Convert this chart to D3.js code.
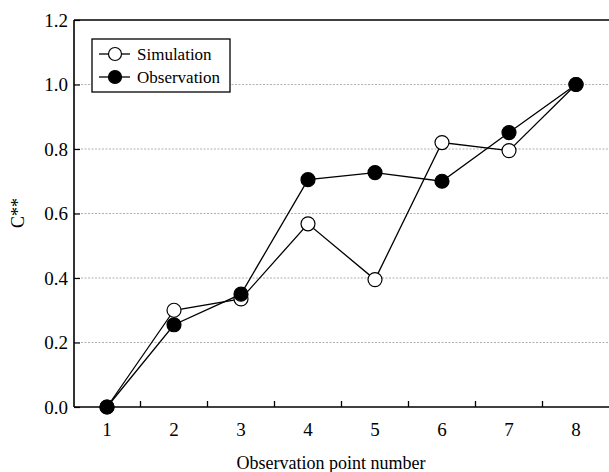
<!DOCTYPE html>
<html>
<head>
<meta charset="utf-8">
<script src="https://cdn.jsdelivr.net/npm/d3@7"></script>
<style>
	body { margin: 0; background: #fff; }
	svg { display: block; font-family: 'Liberation Serif', 'DejaVu Serif', serif; }
</style>
</head>
<body>
<div id="chart"></div>
<script>
const POINTS = [1, 2, 3, 4, 5, 6, 7, 8];
const SIMULATION = [0.0, 0.30, 0.335, 0.568, 0.395, 0.82, 0.795, 1.0];
const OBSERVATION = [0.0, 0.255, 0.35, 0.705, 0.727, 0.70, 0.851, 1.0];
const Y_TICKS = [0.0, 0.2, 0.4, 0.6, 0.8, 1.0, 1.2];
const X_DIVIDERS = [1.5, 2.5, 3.5, 4.5, 5.5, 6.5, 7.5];

const width = 609;
const height = 472;

const frame = {left: 74, right: 609, top: 20, bottom: 407};

const svg = d3
	.select('#chart')
	.append('svg')
	.attr('width', width)
	.attr('height', height);

const x = d3.scaleLinear().domain([1, 8]).range([107, 576]);
const y = d3.scaleLinear().domain([0, 1.2]).range([frame.bottom, frame.top]);

// Dotted gridlines
svg
	.append('g')
	.selectAll('line')
	.data(Y_TICKS.filter(v => v > 0 && v < 1.2))
	.enter()
	.append('line')
	.attr('x1', frame.left)
	.attr('x2', frame.right)
	.attr('y1', d => y(d))
	.attr('y2', d => y(d))
	.attr('stroke', '#a8a8a8')
	.attr('stroke-width', 0.9)
	.attr('stroke-dasharray', '2,1.5');

// Y axis, ticks point into the plot
const yAxis = svg
	.append('g')
	.attr('transform', `translate(${frame.left},0)`)
	.call(
		d3
			.axisLeft(y)
			.tickValues(Y_TICKS)
			.tickSize(-6)
			.tickPadding(6)
			.tickFormat(d3.format('.1f'))
	);
yAxis.select('.domain').remove();
yAxis.selectAll('line').attr('stroke', '#000').attr('stroke-width', 1.2);
yAxis
	.selectAll('text')
	.attr('font-size', 19)
	.attr('font-family', "'Liberation Serif', serif")
	.attr('fill', '#000');

svg
	.append('line')
	.attr('x1', frame.left)
	.attr('x2', frame.left)
	.attr('y1', frame.top)
	.attr('y2', frame.bottom)
	.attr('stroke', '#000')
	.attr('stroke-width', 1.6);

// Top line
svg
	.append('line')
	.attr('x1', frame.left)
	.attr('x2', frame.right)
	.attr('y1', frame.top)
	.attr('y2', frame.top)
	.attr('stroke', '#000')
	.attr('stroke-width', 1.4);

// X axis line and inward ticks between points
svg
	.append('line')
	.attr('x1', frame.left)
	.attr('x2', frame.right)
	.attr('y1', frame.bottom)
	.attr('y2', frame.bottom)
	.attr('stroke', '#000')
	.attr('stroke-width', 1.6);

svg
	.append('g')
	.selectAll('line')
	.data(X_DIVIDERS)
	.enter()
	.append('line')
	.attr('x1', d => x(d))
	.attr('x2', d => x(d))
	.attr('y1', frame.bottom)
	.attr('y2', frame.bottom - 6)
	.attr('stroke', '#000')
	.attr('stroke-width', 1.3);

svg
	.append('g')
	.selectAll('text')
	.data(POINTS)
	.enter()
	.append('text')
	.attr('x', d => x(d))
	.attr('y', frame.bottom + 29)
	.attr('text-anchor', 'middle')
	.attr('font-size', 19)
	.text(d => d);

// Axis titles
svg
	.append('text')
	.attr('x', 331)
	.attr('y', 469)
	.attr('text-anchor', 'middle')
	.attr('font-size', 18)
	.text('Observation point number');

svg
	.append('text')
	.attr('transform', 'translate(24,213) rotate(-90)')
	.attr('text-anchor', 'middle')
	.attr('font-size', 18)
	.text('C**');

// Series
const line = d3
	.line()
	.x((d, i) => x(POINTS[i]))
	.y(d => y(d));

const series = [
	{values: SIMULATION, fill: '#fff'},
	{values: OBSERVATION, fill: '#000'},
];

series.forEach(s => {
	svg
		.append('path')
		.datum(s.values)
		.attr('d', line)
		.attr('fill', 'none')
		.attr('stroke', '#000')
		.attr('stroke-width', 1.3);
});

series.forEach(s => {
	svg
		.append('g')
		.selectAll('circle')
		.data(s.values)
		.enter()
		.append('circle')
		.attr('cx', (d, i) => x(POINTS[i]))
		.attr('cy', d => y(d))
		.attr('r', 7)
		.attr('fill', s.fill)
		.attr('stroke', '#000')
		.attr('stroke-width', 1.2);
});

// Legend
const legend = svg.append('g').attr('transform', 'translate(92,39)');
legend
	.append('rect')
	.attr('width', 138)
	.attr('height', 53)
	.attr('fill', '#fff')
	.attr('stroke', '#000')
	.attr('stroke-width', 1.3);

const legendItems = [
	{label: 'Simulation', fill: '#fff'},
	{label: 'Observation', fill: '#000'},
];

legendItems.forEach((item, i) => {
	const row = legend.append('g').attr('transform', `translate(0,${15 + i * 23})`);
	row
		.append('line')
		.attr('x1', 7)
		.attr('x2', 38)
		.attr('stroke', '#000')
		.attr('stroke-width', 1.3);
	row
		.append('circle')
		.attr('cx', 23)
		.attr('r', 6.5)
		.attr('fill', item.fill)
		.attr('stroke', '#000')
		.attr('stroke-width', 1.2);
	row
		.append('text')
		.attr('x', 45)
		.attr('y', 6)
		.attr('font-size', 17)
		.text(item.label);
});
</script>
</body>
</html>
